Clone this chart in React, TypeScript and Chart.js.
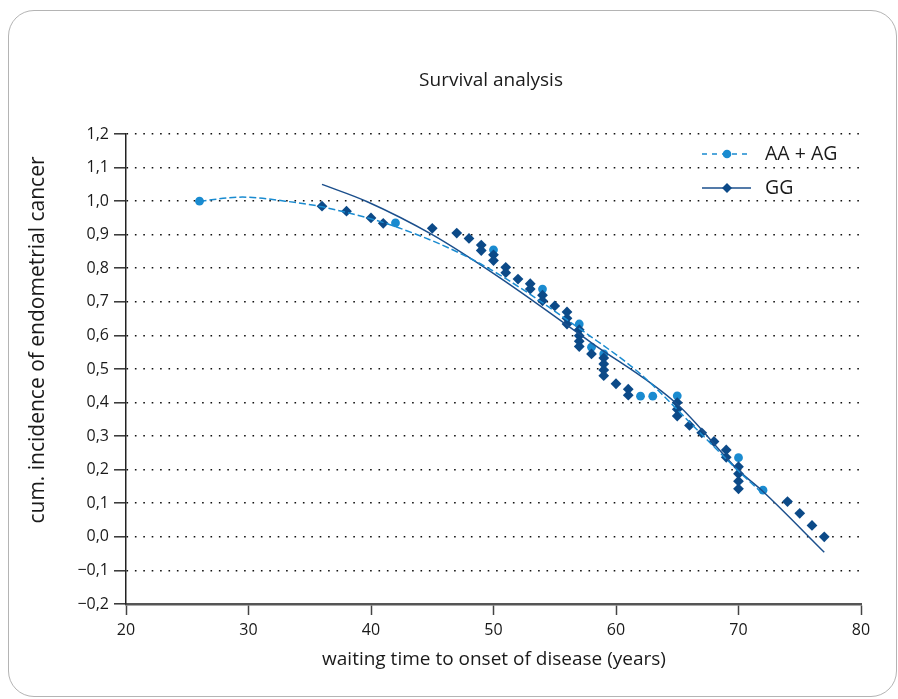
import React, { useEffect, useRef } from "react";
import { Chart, registerables } from "chart.js";

Chart.register(...registerables);

// ---------- data ----------
const chartTitle = "Survival analysis";
const xAxisTitle = "waiting time to onset of disease (years)";
const yAxisTitle = "cum. incidence of endometrial cancer";
const seriesNames = ["AA + AG", "GG"];

const xTickValues = [20, 30, 40, 50, 60, 70, 80];
const yTickValues = [-0.2, -0.1, 0.0, 0.1, 0.2, 0.3, 0.4, 0.5, 0.6, 0.7, 0.8, 0.9, 1.0, 1.1, 1.2];

const aaAgYears = [26, 42, 50, 54, 57, 58, 59, 62, 63, 65, 70, 72];
const aaAgIncidence = [1.0, 0.935, 0.855, 0.738, 0.634, 0.565, 0.545, 0.419, 0.419, 0.42, 0.236, 0.139];

const ggYears = [
  36, 38, 40, 41, 45, 47, 48, 49, 49, 50, 50, 51, 51, 52, 53, 53, 54, 54, 55,
  56, 56, 56, 57, 57, 57, 57, 58, 59, 59, 59, 59, 60, 61, 61, 65, 65, 65, 66,
  67, 68, 69, 69, 70, 70, 70, 70, 74, 75, 76, 77,
];
const ggIncidence = [
  0.985, 0.97, 0.95, 0.934, 0.919, 0.905, 0.889, 0.869, 0.853, 0.84, 0.823,
  0.803, 0.787, 0.768, 0.754, 0.738, 0.72, 0.703, 0.688, 0.67, 0.651, 0.634,
  0.617, 0.599, 0.583, 0.567, 0.545, 0.533, 0.515, 0.497, 0.48, 0.456, 0.44,
  0.422, 0.4, 0.38, 0.36, 0.332, 0.31, 0.284, 0.259, 0.237, 0.209, 0.188,
  0.166, 0.143, 0.105, 0.07, 0.034, 0.0,
];

// trend curves
const aaAgTrendYears = [26, 29.5, 33, 36, 42, 49, 58, 62, 67, 70, 72];
const aaAgTrendValues = [1.0, 1.012, 1.0, 0.983, 0.924, 0.812, 0.595, 0.485, 0.305, 0.196, 0.128];
const ggTrendYears = [36, 39.65, 45, 50.5, 58, 65, 70, 72, 77];
const ggTrendValues = [1.05, 0.999, 0.9, 0.772, 0.578, 0.395, 0.198, 0.135, -0.046];

// ---------- styling ----------
const LIGHT = "#1a8bd0";
const DARK = "#0c4a88";
const DARK_LINE = "#1b4f8c";
const TEXT = "#1a1a1a";
const FONT = "'Open Sans', 'Noto Sans', sans-serif";

const zip = (xs: number[], ys: number[]) => xs.map((x, i) => ({ x, y: ys[i] }));

const fmt = (v: number) => {
  const s = Math.abs(v).toFixed(1).replace(".", ",");
  return v < -1e-9 ? "\u2212" + s : s;
};

const textPlugin = {
  id: "textPlugin",
  afterDraw(chart: any) {
    const ctx = chart.ctx as CanvasRenderingContext2D;
    ctx.save();
    ctx.fillStyle = TEXT;
    ctx.textBaseline = "middle";
    // title
    ctx.font = `19px ${FONT}`;
    ctx.textAlign = "center";
    ctx.fillText(chartTitle, 491, 81);
    // x axis title
    ctx.fillText(xAxisTitle, 494, 660);
    // y axis title
    ctx.save();
    ctx.font = `21px ${FONT}`;
    ctx.translate(38, 340);
    ctx.rotate(-Math.PI / 2);
    ctx.fillText(yAxisTitle, 0, 0);
    ctx.restore();

    // legend
    const lx0 = 702;
    const lx1 = 751;
    const y1 = 154;
    const y2 = 188;
    ctx.lineWidth = 1.6;
    ctx.strokeStyle = LIGHT;
    ctx.setLineDash([5, 5]);
    ctx.beginPath();
    ctx.moveTo(lx0, y1);
    ctx.lineTo(lx1, y1);
    ctx.stroke();
    ctx.setLineDash([]);
    ctx.fillStyle = LIGHT;
    ctx.beginPath();
    ctx.arc(727, y1, 4.3, 0, Math.PI * 2);
    ctx.fill();

    ctx.strokeStyle = DARK_LINE;
    ctx.beginPath();
    ctx.moveTo(lx0, y2);
    ctx.lineTo(lx1, y2);
    ctx.stroke();
    ctx.fillStyle = DARK;
    ctx.beginPath();
    ctx.moveTo(727, y2 - 5);
    ctx.lineTo(732, y2);
    ctx.lineTo(727, y2 + 5);
    ctx.lineTo(722, y2);
    ctx.closePath();
    ctx.fill();

    ctx.fillStyle = TEXT;
    ctx.textAlign = "left";
    ctx.font = `19.5px ${FONT}`;
    ctx.fillText(seriesNames[0], 765, y1);
    ctx.fillText(seriesNames[1], 765, y2);
    ctx.restore();
  },
};

export default function App() {
  const ref = useRef<HTMLCanvasElement | null>(null);

  useEffect(() => {
    if (!ref.current) return;
    const chart = new Chart(ref.current, {
      type: "scatter",
      data: {
        datasets: [
          {
            label: seriesNames[0] + " trend",
            type: "line",
            data: zip(aaAgTrendYears, aaAgTrendValues),
            borderColor: LIGHT,
            borderWidth: 1.5,
            borderDash: [7, 3],
            pointRadius: 0,
            cubicInterpolationMode: "monotone",
            fill: false,
            order: 0,
          },
          {
            label: seriesNames[1] + " trend",
            type: "line",
            data: zip(ggTrendYears, ggTrendValues),
            borderColor: DARK_LINE,
            borderWidth: 1.5,
            pointRadius: 0,
            cubicInterpolationMode: "monotone",
            fill: false,
            order: 0,
          },
          {
            label: seriesNames[0],
            data: zip(aaAgYears, aaAgIncidence),
            backgroundColor: LIGHT,
            borderColor: LIGHT,
            borderWidth: 0,
            pointStyle: "circle",
            pointRadius: 4.4,
            order: 2,
          },
          {
            label: seriesNames[1],
            data: zip(ggYears, ggIncidence),
            backgroundColor: DARK,
            borderColor: DARK,
            borderWidth: 0,
            pointStyle: "rectRot",
            pointRadius: 5.4,
            order: 1,
          },
        ],
      } as any,
      options: {
        responsive: false,
        animation: false,
        layout: { padding: { left: 0, top: 134, right: 37, bottom: 0 } },
        plugins: {
          legend: { display: false },
          title: { display: false },
          tooltip: { enabled: false },
        },
        scales: {
          x: {
            type: "linear",
            min: xTickValues[0],
            max: xTickValues[xTickValues.length - 1],
            afterBuildTicks: (s: any) => {
              s.ticks = xTickValues.map((v) => ({ value: v }));
            },
            afterFit: (s: any) => {
              s.height = 95;
            },
            ticks: {
              color: TEXT,
              font: { family: FONT, size: 16 },
              padding: 6,
              maxRotation: 0,
              callback: (v: any) => String(v),
            },
            grid: {
              drawOnChartArea: false,
              drawTicks: true,
              tickLength: 11,
              tickColor: "#444",
              tickWidth: 1.5,
            },
            border: { display: true, color: "#555", width: 2.5 },
          },
          y: {
            type: "linear",
            min: yTickValues[0],
            max: yTickValues[yTickValues.length - 1],
            afterBuildTicks: (s: any) => {
              s.ticks = yTickValues.map((v) => ({ value: v }));
            },
            afterFit: (s: any) => {
              s.width = 126;
            },
            ticks: {
              color: TEXT,
              font: { family: FONT, size: 16 },
              padding: 5,
              callback: (v: any) => fmt(Number(v)),
            },
            grid: {
              drawOnChartArea: true,
              color: "#111",
              lineWidth: 1.6,
              drawTicks: true,
              tickLength: 12,
              tickColor: "#333",
              tickWidth: 1.5,
              tickBorderDash: [],
            },
            border: { display: true, color: "#222", width: 1.5, dash: [1.6, 6.8] },
          },
        },
      } as any,
      plugins: [textPlugin],
    });
    return () => chart.destroy();
  }, []);

  return (
    <div style={{ position: "absolute", left: 0, top: 0, width: 898, height: 699, background: "#fff", overflow: "hidden" }}>
      <div
        style={{
          position: "absolute",
          left: 8,
          top: 10,
          width: 889,
          height: 687,
          boxSizing: "border-box",
          border: "1.5px solid #b4b4b4",
          borderRadius: 26,
        }}
      />
      <canvas ref={ref} width={898} height={699} style={{ position: "absolute", left: 0, top: 0, width: 898, height: 699 }} />
    </div>
  );
}
